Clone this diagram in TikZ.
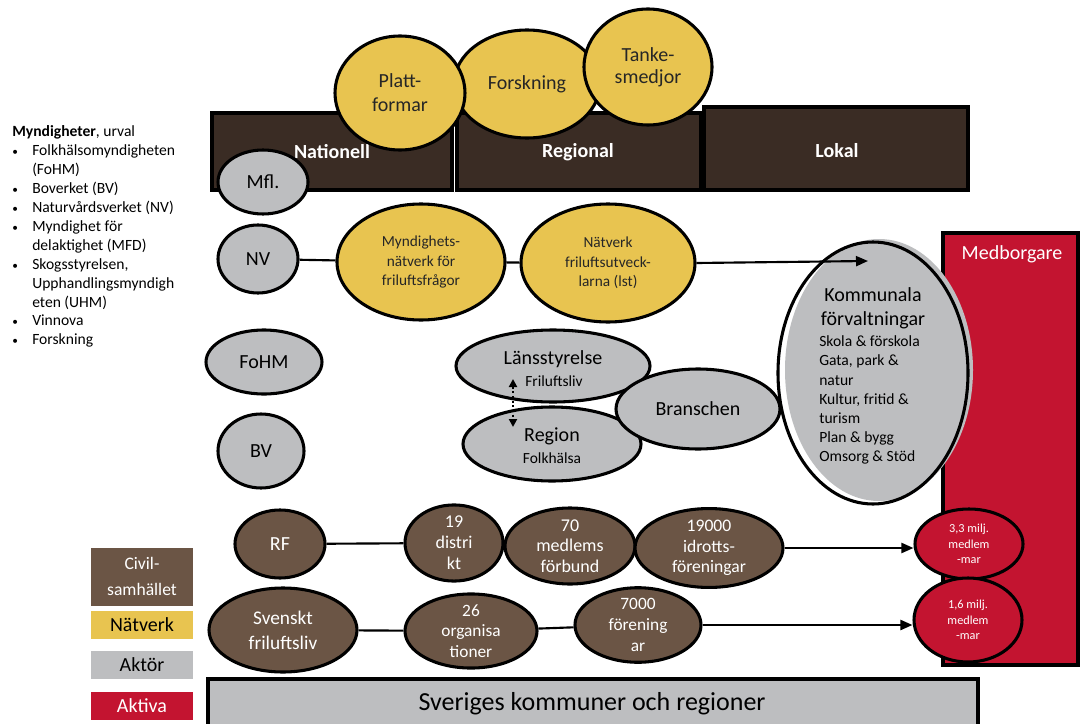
\documentclass[tikz,border=0pt]{standalone}
\usepackage{fontspec}
\setmainfont{Carlito}
\usetikzlibrary{shapes.geometric,arrows.meta}
\definecolor{hdr}{HTML}{3A2C24}
\definecolor{ylw}{HTML}{E8C450}
\definecolor{gry}{HTML}{BDBEC0}
\definecolor{brn}{HTML}{6B5545}
\definecolor{rd}{HTML}{C31430}
\newcommand\mybul{{\fontsize{8.5}{8.5}\selectfont\textbullet}}
\begin{document}
\begin{tikzpicture}[x=0.75pt,y=-0.75pt,
  blob/.style={ellipse, draw=black, line width=2.3pt, inner sep=0pt, align=center},
  sz/.style 2 args={minimum width=#1*1.5pt, minimum height=#2*1.5pt},
  aktor/.style={blob, fill=gry, text=black},
  natv/.style={blob, fill=ylw, text=black!85},
  civil/.style={blob, fill=brn, text=white},
  aktiva/.style={blob, fill=rd, text=white},
  bar/.style={draw=black, line width=2.3pt, fill=hdr},
  hdrtxt/.style={text=white, font=\fontsize{15}{18}\selectfont\bfseries, inner sep=0pt},
  link/.style={line width=1.6pt},
  arr/.style={line width=1.6pt, -{Triangle[length=9pt,width=7.5pt]}},
  legend/.style={inner sep=0pt, align=center, minimum width=76.5pt},
  big/.style={font=\fontsize{15}{18}\selectfont},
]
\clip (0,0) rectangle (1082,724);
\fill[white] (0,0) rectangle (1082,724);

% left list
\node[anchor=west, inner sep=0pt, font=\fontsize{11.7}{14.2}\selectfont] (list) at (12,237) {%
\begin{tabular}{@{}p{15pt}@{}l@{}}
\multicolumn{2}{@{}l@{}}{\textbf{Myndigheter}, urval}\\
\mybul & Folkhälsomyndigheten\\
 & (FoHM)\\
\mybul & Boverket (BV)\\
\mybul & Naturvårdsverket (NV)\\
\mybul & Myndighet för\\
 & delaktighet (MFD)\\
\mybul & Skogsstyrelsen,\\
 & Upphandlingsmyndigh\\
 & eten (UHM)\\
\mybul & Vinnova\\
\mybul & Forskning
\end{tabular}};

% header bars
\draw[bar] (212,113) rectangle (452,190);
\draw[bar] (457,113) rectangle (701,190);
\draw[bar] (704,107) rectangle (968,190);
\node[hdrtxt] (nat) at (332,152) {Nationell};
\node[hdrtxt] (reg) at (578,152) {Regional};
\node[hdrtxt] (lok) at (837,151) {Lokal};

% top network ellipses
\node[natv, sz={73}{54}, font=\fontsize{15}{18}\selectfont] (forsk) at (527,84) {Forskning};
\node[natv, sz={65}{57}, font=\fontsize{15}{18}\selectfont] (platt) at (400,93) {Platt-\\formar};
\node[natv, sz={64}{58}, font=\fontsize{15}{16.5}\selectfont] (tanke) at (648,67) {Tanke-\\smedjor};

% actors left
\node[aktor, sz={45}{32}, big] (mfl) at (263,182) {Mfl.};
\node[aktor, sz={40}{34}, big] (nv) at (258,259) {NV};
\node[aktor, sz={58}{32}, big] (fohm) at (264,362) {FoHM};
\node[aktor, sz={43}{37}, big] (bv) at (261,451) {BV};

% networks middle
\node[natv, sz={84}{58}, font=\fontsize{11.5}{14.6}\selectfont] (mynd) at (421,262) {Myndighets-\\nätverk för\\friluftsfrågor};
\node[natv, sz={87}{59}, font=\fontsize{11.5}{14.6}\selectfont] (natverk) at (608,263) {Nätverk\\friluftsutveck-\\larna (lst)};
\draw[link] (nv) -- (mynd);
\draw[link] (mynd) -- (natverk);

% Medborgare
\draw[draw=black, line width=2.3pt, fill=rd] (943,233) rectangle (1078,665);
\node[text=white, big, inner sep=0pt] (medb) at (1012,254) {Medborgare};

% Kommunala
\node[ellipse, fill=gry, sz={94}{131}] (kshadow) at (879,370) {};
\node[blob, fill=none, sz={95}{131}] (komm) at (873,373) {};
\node[inner sep=0pt, align=center, font=\fontsize{15}{18}\selectfont] (kommt) at (873,308) {Kommunala\\förvaltningar};
\node[anchor=west, inner sep=0pt, align=left, font=\fontsize{11.7}{14.3}\selectfont] (komml) at (819,400) {Skola \& förskola\\Gata, park \&\\natur\\Kultur, fritid \&\\turism\\Plan \& bygg\\Omsorg \& Stöd};

% regional actors
\node[aktor, sz={97}{36}] (lans) at (553,366) {};
\node[inner sep=0pt, big] (lanst) at (553,359) {Länsstyrelse};
\node[inner sep=0pt, font=\fontsize{11.6}{14}\selectfont] (lansf) at (554,381) {Friluftsliv};
\node[aktor, sz={89}{37}] (regn) at (552,444) {};
\node[inner sep=0pt, big] (regt) at (552,436) {Region};
\node[inner sep=0pt, font=\fontsize{11.6}{14}\selectfont] (regf) at (552,458) {Folkhälsa};
\node[aktor, sz={82}{40}, big] (bransch) at (698,409) {Branschen};
\coordinate (dtop) at (513,379);
\coordinate (dbot) at (513,427);
\draw[line width=1.5pt, dotted, {Triangle[length=6pt,width=6pt]}-{Triangle[length=6pt,width=6pt]}] (dtop) -- (dbot);

% arrow to Kommunala
\coordinate (kin) at (868,261);
\draw[arr] (natverk.east) -- (kin);

% aktiva ellipses
\node[aktiva, sz={54}{35}, font=\fontsize{9.2}{11.6}\selectfont] (m33) at (969,544) {3,3 milj.\\medlem\\-mar};
\node[aktiva, sz={54}{42}, font=\fontsize{9.2}{11.6}\selectfont] (m16) at (968,620) {1,6 milj.\\medlem\\-mar};

% RF row
\node[civil, sz={45}{34}, big] (rf) at (280,544) {RF};
\node[civil, sz={49}{36}, font=\fontsize{13.5}{15.75}\selectfont] (dist) at (454,543) {19\\distri\\kt};
\node[civil, sz={65}{38}, font=\fontsize{13.5}{15.5}\selectfont] (medf) at (570,546) {70\\medlems\\förbund};
\node[civil, sz={74}{34}, font=\fontsize{13.2}{15.5}\selectfont] (ido) at (709,548) {19000\\idrotts-\\föreningar};
\draw[link] (rf) -- (dist);
\draw[arr] (ido.east) -- (ido.east -| m33.west);

% Svenskt friluftsliv row
\node[civil, sz={74}{42}, font=\fontsize{14.5}{18.75}\selectfont] (svf) at (283,630) {Svenskt\\friluftsliv};
\node[civil, sz={66}{36}, font=\fontsize{13}{15.2}\selectfont] (org) at (471,631) {26\\organisa\\tioner};
\node[civil, sz={63}{37}, font=\fontsize{13}{15.5}\selectfont] (for) at (638,625) {7000\\förening\\ar};
\draw[link] (svf) -- (org);
\draw[link] (org) -- (for);
\draw[arr] (for.east) -- (for.east -| m16.west);

% bottom bar
\draw[draw=black, line width=2.3pt, fill=gry] (208,735) -- (208,679) -- (978,679) -- (978,735);
\node[inner sep=0pt, font=\fontsize{19.5}{23}\selectfont] (skr) at (592,704) {Sveriges kommuner och regioner};

% legend
\fill[brn] (91,548) rectangle (193,606);
\node[legend, text=white, font=\fontsize{13.2}{19.5}\selectfont] (lcivil) at (142,576) {Civil-\\samhället};
\fill[ylw] (91,611) rectangle (193,639);
\node[legend, text=black, big] (lnat) at (142,625) {Nätverk};
\fill[gry] (91,651) rectangle (193,679);
\node[legend, text=black, big] (lakt) at (142,665) {Aktör};
\fill[rd] (91,692) rectangle (193,720);
\node[legend, text=white, big] (laktiva) at (142,706) {Aktiva};
\end{tikzpicture}
\end{document}
